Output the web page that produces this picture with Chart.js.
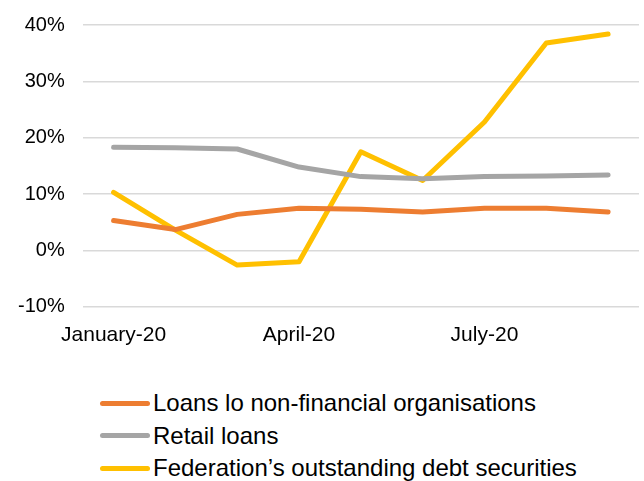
<!DOCTYPE html>
<html>
<head>
<meta charset="utf-8">
<script src="https://cdn.jsdelivr.net/npm/chart.js@4/dist/chart.umd.min.js"></script>
<style>
  html, body { margin: 0; padding: 0; background: #fff; }
  #wrap { position: relative; width: 644px; height: 481px; overflow: hidden; }
  #box { position: absolute; left: 0; top: -5px; width: 644px; height: 379px; }
  #legend { position: absolute; left: 100px; top: 387px; font-family: "Liberation Sans", Arial, sans-serif; font-size: 24px; color: #000; }
  .item { display: flex; align-items: center; height: 32.5px; white-space: nowrap; }
  .sw { width: 50px; height: 5px; border-radius: 3px; margin-right: 3px; }
</style>
</head>
<body>
<div id="wrap">
  <div id="box"><canvas id="c"></canvas></div>
  <div id="legend"></div>
</div>
<script>
const categories = ['January-20','February-20','March-20','April-20','May-20','June-20','July-20','August-20','September-20'];
const tickLabels = ['January-20','','','April-20','','','July-20','',''];
const seriesNames = ['Loans lo non-financial organisations','Retail loans','Federation\u2019s outstanding debt securities'];
const loansNonFinancial = [5.3, 3.7, 6.4, 7.5, 7.3, 6.8, 7.5, 7.5, 6.8];
const retailLoans = [18.3, 18.2, 18.0, 14.8, 13.1, 12.7, 13.1, 13.2, 13.4];
const federationDebt = [10.3, 3.6, -2.6, -2.0, 17.5, 12.4, 22.8, 36.8, 38.4];
const colors = ['#ED7D31', '#A5A5A5', '#FFC000'];
const yTicks = [-10, 0, 10, 20, 30, 40];

const seriesData = [loansNonFinancial, retailLoans, federationDebt];
const datasets = seriesData.map((d, i) => ({
  label: seriesNames[i],
  data: d,
  borderColor: colors[i],
  backgroundColor: colors[i],
  borderWidth: 5,
  pointRadius: 0,
  tension: 0,
  borderCapStyle: 'round',
  borderJoinStyle: 'round',
  fill: false
}));

const yFont = { family: '"Liberation Sans", Arial, sans-serif', size: 20 };
const xFont = { family: '"Liberation Sans", Arial, sans-serif', size: 21 };

new Chart(document.getElementById('c'), {
  type: 'line',
  data: { labels: categories, datasets: datasets },
  options: {
    responsive: true,
    maintainAspectRatio: false,
    animation: false,
    layout: { padding: { top: 10, left: 0, right: 5, bottom: 10 } },
    plugins: { legend: { display: false }, tooltip: { enabled: false } },
    scales: {
      x: {
        offset: true,
        grid: { display: false, drawTicks: false },
        border: { display: false },
        ticks: {
          autoSkip: false, maxRotation: 0, minRotation: 0, padding: 16,
          color: '#000', font: xFont,
          callback: (v, i) => tickLabels[i]
        }
      },
      y: {
        min: yTicks[0], max: yTicks[yTicks.length - 1],
        afterBuildTicks: (axis) => { axis.ticks = yTicks.map(v => ({ value: v })); },
        grid: { color: '#D9D9D9', lineWidth: 1.5, drawTicks: false },
        border: { display: false },
        ticks: { padding: 18, color: '#000', font: yFont, callback: v => v + '%' }
      }
    }
  }
});

const lg = document.getElementById('legend');
seriesNames.forEach((n, i) => {
  const it = document.createElement('div');
  it.className = 'item';
  const sw = document.createElement('span');
  sw.className = 'sw';
  sw.style.background = colors[i];
  const t = document.createElement('span');
  t.textContent = n;
  it.appendChild(sw); it.appendChild(t);
  lg.appendChild(it);
});
</script>
</body>
</html>
